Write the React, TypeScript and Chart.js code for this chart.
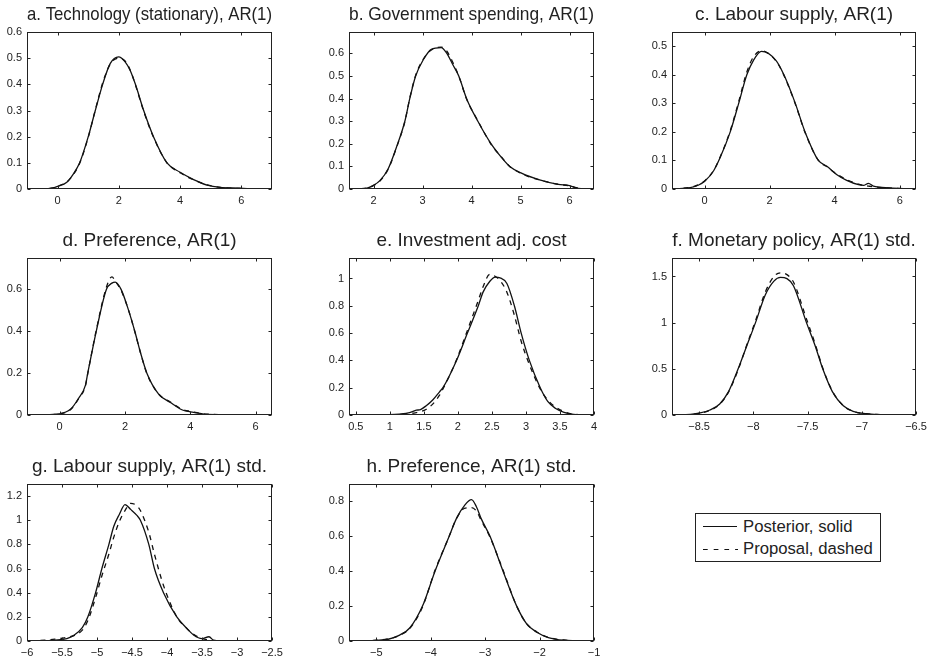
import React, { useEffect, useRef } from "react";
import { Chart, registerables } from "chart.js";

Chart.register(...registerables);

const FONT = "'Liberation Sans', Arial, Helvetica, sans-serif";
const INK = "#222222";
const LINE = "#111111";

// a. Technology (stationary), AR(1)
const techX = [-0.6, -0.2, 0, 0.3, 0.5, 0.72, 1.0, 1.23, 1.47, 1.72, 1.99, 2.21, 2.37, 2.54, 2.81, 3.13, 3.57, 4.0, 4.44, 4.88, 5.31, 5.96, 6.3];
const techPosterior = [0, 0.003, 0.01, 0.026, 0.055, 0.1, 0.2, 0.3, 0.4, 0.48, 0.505, 0.485, 0.453, 0.4, 0.3, 0.2, 0.1, 0.064, 0.036, 0.015, 0.006, 0.003, 0];
const techProposal = [0, 0.003, 0.011, 0.027, 0.053, 0.098, 0.198, 0.302, 0.405, 0.478, 0.5, 0.488, 0.455, 0.398, 0.297, 0.198, 0.1, 0.062, 0.035, 0.016, 0.006, 0.002, 0];
const techXTicks = [0, 2, 4, 6];
const techYTicks = [0, 0.1, 0.2, 0.3, 0.4, 0.5, 0.6];

// b. Government spending, AR(1)
const govX = [1.55, 1.85, 1.99, 2.13, 2.3, 2.47, 2.64, 2.74, 2.86, 3.01, 3.18, 3.38, 3.49, 3.62, 3.74, 3.9, 4.13, 4.4, 4.61, 4.78, 5.02, 5.39, 5.77, 6.0, 6.14, 6.28];
const govPosterior = [0, 0.003, 0.015, 0.037, 0.09, 0.186, 0.3, 0.4, 0.5, 0.57, 0.618, 0.626, 0.603, 0.55, 0.5, 0.4, 0.3, 0.2, 0.14, 0.1, 0.07, 0.04, 0.02, 0.015, 0.005, 0];
const govProposal = [0, 0.004, 0.014, 0.035, 0.088, 0.184, 0.298, 0.402, 0.503, 0.573, 0.615, 0.628, 0.612, 0.56, 0.5, 0.398, 0.302, 0.198, 0.142, 0.1, 0.068, 0.04, 0.021, 0.014, 0.006, 0];
const govXTicks = [2, 3, 4, 5, 6];
const govYTicks = [0, 0.1, 0.2, 0.3, 0.4, 0.5, 0.6];

// c. Labour supply, AR(1)
const labX = [-0.95, -0.44, -0.18, 0.02, 0.28, 0.48, 0.79, 1.05, 1.3, 1.5, 1.75, 2.2, 2.44, 2.79, 3.09, 3.5, 3.76, 4.07, 4.37, 4.73, 4.9, 5.04, 5.19, 5.7, 6.3];
const labPosterior = [0, 0.005, 0.014, 0.029, 0.064, 0.11, 0.2, 0.3, 0.4, 0.45, 0.482, 0.45, 0.4, 0.3, 0.2, 0.1, 0.08, 0.05, 0.03, 0.015, 0.013, 0.02, 0.01, 0.004, 0];
const labProposal = [0, 0.006, 0.015, 0.03, 0.065, 0.112, 0.204, 0.306, 0.41, 0.462, 0.484, 0.448, 0.398, 0.298, 0.198, 0.1, 0.078, 0.052, 0.033, 0.017, 0.012, 0.01, 0.008, 0.003, 0];
const labXTicks = [0, 2, 4, 6];
const labYTicks = [0, 0.1, 0.2, 0.3, 0.4, 0.5];

// d. Preference, AR(1)
const prefX = [-0.59, -0.03, 0.33, 0.58, 0.79, 0.86, 1.12, 1.43, 1.6, 1.7, 1.88, 2.11, 2.3, 2.47, 2.67, 3.03, 3.39, 3.74, 4.0, 4.2, 4.5, 6.35];
const prefPosterior = [0, 0.005, 0.027, 0.08, 0.143, 0.2, 0.4, 0.6, 0.63, 0.635, 0.6, 0.5, 0.4, 0.3, 0.2, 0.1, 0.06, 0.025, 0.015, 0.01, 0.003, 0];
const prefProposal = [0, 0.005, 0.025, 0.078, 0.14, 0.198, 0.405, 0.61, 0.66, 0.64, 0.595, 0.5, 0.398, 0.3, 0.198, 0.1, 0.062, 0.028, 0.017, 0.011, 0.004, 0];
const prefXTicks = [0, 2, 4, 6];
const prefYTicks = [0, 0.2, 0.4, 0.6];

// e. Investment adj. cost
const invX = [0.45, 0.99, 1.14, 1.29, 1.39, 1.45, 1.53, 1.63, 1.73, 1.78, 1.98, 2.14, 2.3, 2.37, 2.47, 2.55, 2.62, 2.72, 2.83, 2.93, 3.05, 3.21, 3.32, 3.43, 3.56, 3.7, 4.0];
const invPosterior = [0, 0.003, 0.007, 0.017, 0.035, 0.04, 0.066, 0.11, 0.17, 0.2, 0.4, 0.6, 0.8, 0.9, 0.98, 1.01, 1.005, 0.963, 0.8, 0.6, 0.4, 0.2, 0.1, 0.05, 0.02, 0.005, 0];
const invProposal = [0, 0.002, 0.004, 0.01, 0.018, 0.024, 0.04, 0.08, 0.145, 0.19, 0.405, 0.62, 0.84, 0.94, 1.03, 1.015, 0.985, 0.9, 0.73, 0.54, 0.37, 0.19, 0.11, 0.06, 0.025, 0.006, 0];
const invXTicks = [0.5, 1, 1.5, 2, 2.5, 3, 3.5, 4];
const invYTicks = [0, 0.2, 0.4, 0.6, 0.8, 1];

// f. Monetary policy, AR(1) std.
const monX = [-8.73, -8.58, -8.49, -8.4, -8.31, -8.23, -8.14, -8.06, -7.98, -7.89, -7.81, -7.75, -7.69, -7.63, -7.51, -7.43, -7.36, -7.27, -7.17, -7.08, -6.96, -6.83, -6.68];
const monPosterior = [0, 0.007, 0.022, 0.054, 0.12, 0.25, 0.5, 0.75, 1.0, 1.3, 1.45, 1.49, 1.477, 1.4, 1.0, 0.75, 0.5, 0.25, 0.1, 0.04, 0.015, 0.005, 0];
const monProposal = [0, 0.006, 0.02, 0.05, 0.115, 0.245, 0.49, 0.76, 1.02, 1.33, 1.5, 1.54, 1.52, 1.44, 1.04, 0.77, 0.51, 0.255, 0.1, 0.04, 0.014, 0.004, 0];
const monXTicks = [-8.5, -8, -7.5, -7, -6.5];
const monYTicks = [0, 0.5, 1, 1.5];

// g. Labour supply, AR(1) std.
const labStdX = [-5.95, -5.6, -5.43, -5.33, -5.21, -5.13, -5.02, -4.93, -4.83, -4.76, -4.68, -4.6, -4.52, -4.43, -4.38, -4.26, -4.18, -4.05, -3.86, -3.71, -3.62, -3.5, -3.4, -3.33, -3.14];
const labStdPosterior = [0, 0.008, 0.02, 0.047, 0.11, 0.2, 0.4, 0.6, 0.8, 0.95, 1.05, 1.13, 1.09, 1.04, 1.0, 0.8, 0.6, 0.4, 0.2, 0.1, 0.05, 0.02, 0.035, 0.005, 0];
const labStdProposal = [0, 0.015, 0.03, 0.045, 0.09, 0.17, 0.36, 0.54, 0.72, 0.86, 0.99, 1.08, 1.14, 1.12, 1.08, 0.9, 0.72, 0.46, 0.2, 0.1, 0.055, 0.02, 0.01, 0.005, 0];
const labStdXTicks = [-6, -5.5, -5, -4.5, -4, -3.5, -3, -2.5];
const labStdYTicks = [0, 0.2, 0.4, 0.6, 0.8, 1, 1.2];

// h. Preference, AR(1) std.
const prefStdX = [-5.43, -5.0, -4.78, -4.57, -4.38, -4.15, -3.92, -3.66, -3.53, -3.37, -3.25, -3.16, -3.07, -2.91, -2.67, -2.42, -2.24, -2.05, -1.84, -1.56, -1.01];
const prefStdPosterior = [0, 0.004, 0.01, 0.034, 0.076, 0.2, 0.4, 0.6, 0.7, 0.78, 0.81, 0.77, 0.7, 0.6, 0.4, 0.2, 0.1, 0.05, 0.02, 0.005, 0];
const prefStdProposal = [0, 0.005, 0.012, 0.033, 0.074, 0.195, 0.405, 0.6, 0.7, 0.762, 0.765, 0.745, 0.69, 0.595, 0.405, 0.2, 0.1, 0.052, 0.021, 0.006, 0];
const prefStdXTicks = [-5, -4, -3, -2, -1];
const prefStdYTicks = [0, 0.2, 0.4, 0.6, 0.8];

const legendLabels = ["Posterior, solid", "Proposal, dashed"];

// Grid geometry of the 3x3 layout (plot box edges, page pixels)
const COL_LEFT = [27, 349, 672];
const COL_WIDTH = [245, 245, 244];
const ROW_TOP = [32, 258, 484];
const BOX_H = 157;
const AXIS_W = 28;
const TITLE_H = 32;
const XAXIS_H = 22;
const RIGHT_PAD = 14;
const TICK_LEN = 3;

type PanelDef = {
  title: string;
  x: number[];
  posterior: number[];
  proposal: number[];
  xTicks: number[];
  yTicks: number[];
  xMin: number;
  xMax: number;
  yMax: number;
  col: number;
  row: number;
};

const panels: PanelDef[] = [
  { title: "a. Technology (stationary), AR(1)", x: techX, posterior: techPosterior, proposal: techProposal, xTicks: techXTicks, yTicks: techYTicks, xMin: -1, xMax: 7, yMax: 0.6, col: 0, row: 0 },
  { title: "b. Government spending, AR(1)", x: govX, posterior: govPosterior, proposal: govProposal, xTicks: govXTicks, yTicks: govYTicks, xMin: 1.5, xMax: 6.5, yMax: 0.695, col: 1, row: 0 },
  { title: "c. Labour supply, AR(1)", x: labX, posterior: labPosterior, proposal: labProposal, xTicks: labXTicks, yTicks: labYTicks, xMin: -1, xMax: 6.5, yMax: 0.55, col: 2, row: 0 },
  { title: "d. Preference, AR(1)", x: prefX, posterior: prefPosterior, proposal: prefProposal, xTicks: prefXTicks, yTicks: prefYTicks, xMin: -1, xMax: 6.5, yMax: 0.75, col: 0, row: 1 },
  { title: "e. Investment adj. cost", x: invX, posterior: invPosterior, proposal: invProposal, xTicks: invXTicks, yTicks: invYTicks, xMin: 0.4, xMax: 4, yMax: 1.15, col: 1, row: 1 },
  { title: "f. Monetary policy, AR(1) std.", x: monX, posterior: monPosterior, proposal: monProposal, xTicks: monXTicks, yTicks: monYTicks, xMin: -8.75, xMax: -6.5, yMax: 1.7, col: 2, row: 1 },
  { title: "g. Labour supply, AR(1) std.", x: labStdX, posterior: labStdPosterior, proposal: labStdProposal, xTicks: labStdXTicks, yTicks: labStdYTicks, xMin: -6, xMax: -2.5, yMax: 1.3, col: 0, row: 2 },
  { title: "h. Preference, AR(1) std.", x: prefStdX, posterior: prefStdPosterior, proposal: prefStdProposal, xTicks: prefStdXTicks, yTicks: prefStdYTicks, xMin: -5.5, xMax: -1, yMax: 0.9, col: 1, row: 2 },
];

const fmtTick = (v: number | string) => String(v).replace("-", "\u2212");

// Frame around the plot area with inward tick marks on all four sides
const boxPlugin = {
  id: "axisBox",
  afterDatasetsDraw(chart: any) {
    const { ctx, chartArea: a, scales } = chart;
    const L = Math.round(a.left) + 0.5;
    const R = Math.round(a.right) - 0.5;
    const T = Math.round(a.top) + 0.5;
    const B = Math.round(a.bottom) - 0.5;
    ctx.save();
    ctx.strokeStyle = INK;
    ctx.lineWidth = 1;
    ctx.beginPath();
    for (const t of scales.x.ticks) {
      const px = Math.round(scales.x.getPixelForValue(t.value)) + 0.5;
      ctx.moveTo(px, B);
      ctx.lineTo(px, B - TICK_LEN);
      ctx.moveTo(px, T);
      ctx.lineTo(px, T + TICK_LEN);
    }
    for (const t of scales.y.ticks) {
      const py = Math.round(scales.y.getPixelForValue(t.value)) + 0.5;
      ctx.moveTo(L, py);
      ctx.lineTo(L + TICK_LEN, py);
      ctx.moveTo(R, py);
      ctx.lineTo(R - TICK_LEN, py);
    }
    ctx.stroke();
    ctx.strokeRect(L, T, R - L, B - T);
    ctx.restore();
  },
};

function Panel({ p }: { p: PanelDef }) {
  const ref = useRef<HTMLCanvasElement>(null);
  const boxW = COL_WIDTH[p.col];
  const width = AXIS_W + boxW + RIGHT_PAD;
  const height = TITLE_H + BOX_H + XAXIS_H;
  const left = COL_LEFT[p.col] - AXIS_W;
  const top = ROW_TOP[p.row] - TITLE_H;

  useEffect(() => {
    if (!ref.current) return;
    const tickFont = { family: FONT, size: 11 };
    const chart = new Chart(ref.current, {
      type: "line",
      data: {
        datasets: [
          {
            label: legendLabels[0],
            data: p.x.map((x, i) => ({ x, y: p.posterior[i] })),
            borderColor: LINE,
            borderWidth: 1.3,
            pointRadius: 0,
            fill: false,
            cubicInterpolationMode: "monotone",
          },
          {
            label: legendLabels[1],
            data: p.x.map((x, i) => ({ x, y: p.proposal[i] })),
            borderColor: LINE,
            borderWidth: 1.3,
            borderDash: [5, 5],
            pointRadius: 0,
            fill: false,
            cubicInterpolationMode: "monotone",
          },
        ],
      },
      options: {
        responsive: false,
        animation: false,
        events: [],
        layout: { padding: { left: 0, right: RIGHT_PAD, top: 0, bottom: 0 } },
        plugins: {
          legend: { display: false },
          tooltip: { enabled: false },
          title: {
            display: true,
            text: p.title,
            fullSize: false,
            color: INK,
            font: { family: FONT, size: 19, weight: "normal", lineHeight: 1.2 },
            padding: { top: 3.3, bottom: TITLE_H - 3.3 - 22.8 },
          },
        },
        scales: {
          x: {
            type: "linear",
            min: p.xMin,
            max: p.xMax,
            grid: { display: false, drawTicks: false },
            border: { display: false },
            ticks: {
              padding: 5,
              color: INK,
              font: tickFont,
              maxRotation: 0,
              autoSkip: false,
              callback: (v: any) => fmtTick(v),
            },
            afterBuildTicks: (s: any) => {
              s.ticks = p.xTicks.map((value) => ({ value }));
            },
            afterFit: (s: any) => {
              s.height = XAXIS_H;
              s.paddingLeft = 0;
              s.paddingRight = 0;
            },
          },
          y: {
            type: "linear",
            min: 0,
            max: p.yMax,
            grid: { display: false, drawTicks: false },
            border: { display: false },
            ticks: {
              padding: 5,
              color: INK,
              font: tickFont,
              autoSkip: false,
              callback: (v: any) => fmtTick(v),
            },
            afterBuildTicks: (s: any) => {
              s.ticks = p.yTicks.map((value) => ({ value }));
            },
            afterFit: (s: any) => {
              s.width = AXIS_W;
              s.paddingTop = 0;
              s.paddingBottom = 0;
            },
          },
        },
      },
      plugins: [boxPlugin],
    } as any);
    return () => chart.destroy();
  }, [p]);

  return (
    <canvas
      ref={ref}
      width={width}
      height={height}
      style={{ position: "absolute", left, top, width, height }}
    />
  );
}

function Legend() {
  const textStyle: React.CSSProperties = {
    position: "absolute",
    left: 47,
    fontFamily: FONT,
    fontSize: 16.7,
    lineHeight: "16.7px",
    color: INK,
    whiteSpace: "nowrap",
  };
  return (
    <div
      style={{
        position: "absolute",
        left: 695,
        top: 513,
        width: 186,
        height: 49,
        boxSizing: "border-box",
        border: `1px solid ${INK}`,
        background: "#fff",
      }}
    >
      <svg width={184} height={47} style={{ position: "absolute", left: 0, top: 0 }}>
        <line x1={7} y1={12.5} x2={41} y2={12.5} stroke={LINE} strokeWidth={1.2} />
        <line x1={7} y1={35.5} x2={42} y2={35.5} stroke={LINE} strokeWidth={1.2} strokeDasharray="4.7 6" />
      </svg>
      <div style={{ ...textStyle, top: 4.6 }}>{legendLabels[0]}</div>
      <div style={{ ...textStyle, top: 26.9 }}>{legendLabels[1]}</div>
    </div>
  );
}

export default function App() {
  return (
    <div
      style={{
        position: "absolute",
        left: 0,
        top: 0,
        width: 927,
        height: 661,
        overflow: "hidden",
        background: "#ffffff",
      }}
    >
      {panels.map((p) => (
        <Panel key={p.title} p={p} />
      ))}
      <Legend />
    </div>
  );
}
